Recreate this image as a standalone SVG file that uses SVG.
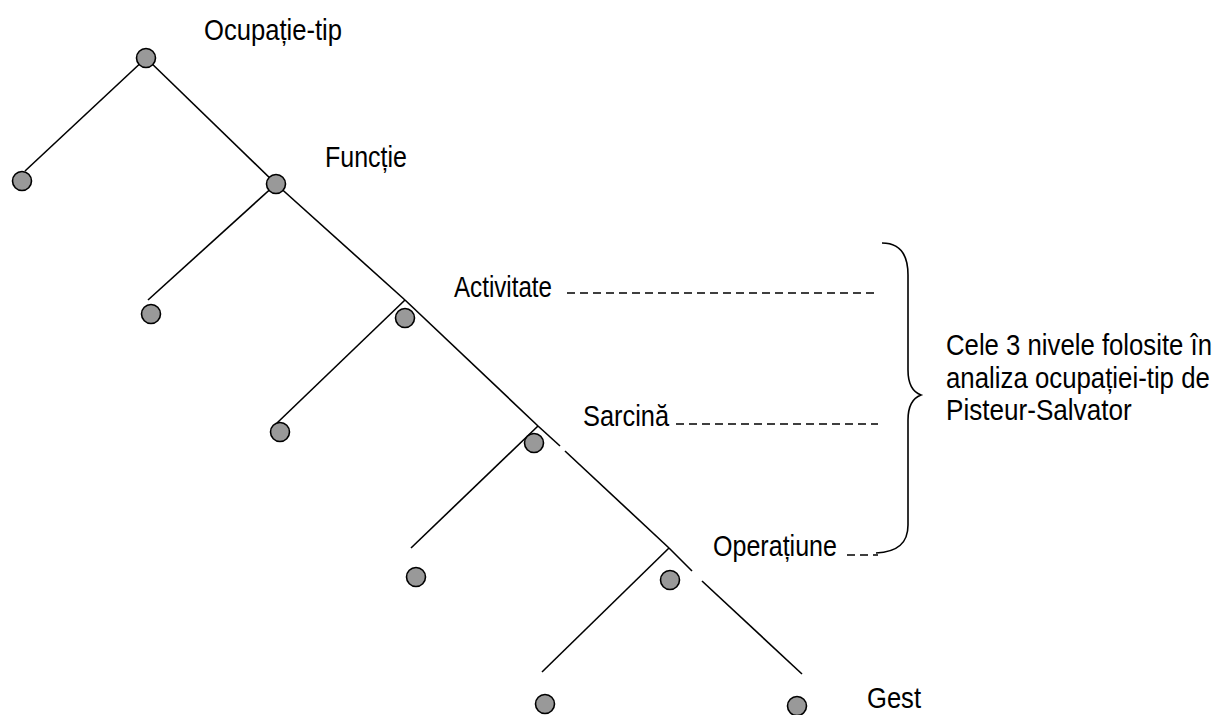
<svg xmlns="http://www.w3.org/2000/svg" width="1220" height="715" viewBox="0 0 1220 715">
  <style>
    .ln { stroke: #000; stroke-width: 1.6; fill: none; stroke-linecap: butt; }
    .dash { stroke: #000; stroke-width: 1.4; fill: none; stroke-dasharray: 8 5; }
    .nd { fill: #999999; stroke: #000; stroke-width: 1.6; }
    .lbl { font-family: "Liberation Sans", Arial, sans-serif; font-size: 30px; fill: #000; }
  </style>
  <rect width="1220" height="715" fill="#ffffff"/>
  <g id="connectors">
    <line class="ln" x1="146" y1="58" x2="25" y2="171"/>
    <line class="ln" x1="146" y1="58" x2="276" y2="184"/>
    <line class="ln" x1="276" y1="184" x2="148" y2="300"/>
    <line class="ln" x1="276" y1="184" x2="405" y2="300"/>
    <line class="ln" x1="405" y1="300" x2="277" y2="423"/>
    <line class="ln" x1="405" y1="300" x2="538" y2="426"/>
    <line class="ln" x1="538" y1="426" x2="411" y2="548"/>
    <line class="ln" x1="538" y1="426" x2="560" y2="446"/>
    <line class="ln" x1="565" y1="451" x2="669" y2="548"/>
    <line class="ln" x1="669" y1="548" x2="542" y2="672"/>
    <line class="ln" x1="669" y1="548" x2="692" y2="571"/>
    <line class="ln" x1="702" y1="581" x2="802" y2="674"/>
    <line class="dash" x1="567" y1="293" x2="876" y2="293"/>
    <line class="dash" x1="676" y1="424" x2="878" y2="424"/>
    <line class="dash" x1="847" y1="555" x2="878" y2="555"/>
    <path class="ln" d="M882,243 C900,243 908,255 908,275 L908,370 C908,385 913,392 921,395 C913,398 908,405 908,420 L908,525 C908,543 898,552 876,553"/>
  </g>
  <g id="node-ocupatie">
    <circle class="nd" cx="146" cy="58" r="9.5"/>
    <text class="lbl" x="204" y="40" textLength="138" lengthAdjust="spacingAndGlyphs">Ocupație-tip</text>
  </g>
  <g id="leaf-1"><circle class="nd" cx="22" cy="181" r="9.5"/></g>
  <g id="node-functie">
    <circle class="nd" cx="276" cy="184" r="9.5"/>
    <text class="lbl" x="325" y="166.5" textLength="82" lengthAdjust="spacingAndGlyphs">Funcție</text>
  </g>
  <g id="leaf-2"><circle class="nd" cx="151" cy="314" r="9.5"/></g>
  <g id="node-activitate">
    <circle class="nd" cx="405" cy="318" r="9.5"/>
    <text class="lbl" x="454" y="296.5" textLength="98" lengthAdjust="spacingAndGlyphs">Activitate</text>
  </g>
  <g id="leaf-3"><circle class="nd" cx="280" cy="432" r="9.5"/></g>
  <g id="node-sarcina">
    <circle class="nd" cx="534" cy="443" r="9.5"/>
    <text class="lbl" x="583" y="426" textLength="86" lengthAdjust="spacingAndGlyphs">Sarcină</text>
  </g>
  <g id="leaf-4"><circle class="nd" cx="416" cy="577" r="9.5"/></g>
  <g id="node-operatiune">
    <circle class="nd" cx="670" cy="580" r="9.5"/>
    <text class="lbl" x="713" y="556" textLength="124" lengthAdjust="spacingAndGlyphs">Operațiune</text>
  </g>
  <g id="leaf-5"><circle class="nd" cx="545" cy="704" r="9.5"/></g>
  <g id="node-gest">
    <circle class="nd" cx="797" cy="706" r="9.5"/>
    <text class="lbl" x="867" y="708" textLength="54" lengthAdjust="spacingAndGlyphs">Gest</text>
  </g>
  <g id="note">
    <text class="lbl" transform="translate(946,355) scale(0.858,1)">Cele 3 nivele folosite în</text>
    <text class="lbl" transform="translate(946,387.5) scale(0.86,1)">analiza ocupației-tip de</text>
    <text class="lbl" transform="translate(946,420) scale(0.87,1)">Pisteur-Salvator</text>
  </g>
</svg>
